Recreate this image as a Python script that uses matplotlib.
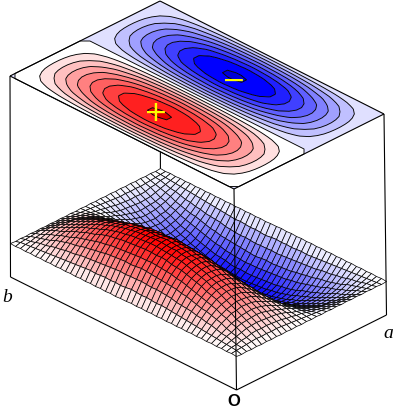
"""Two-lobed wave: contour map on the upper plane, mesh surface below."""

import numpy as np
import matplotlib
matplotlib.use("Agg")
import matplotlib.pyplot as plt
from matplotlib.colors import LinearSegmentedColormap

# height profiles read along the two box directions (the mesh is their product)
a_profile = [0.00, 0.21, 0.41, 0.59, 0.74, 0.87, 0.95, 0.99, 0.99, 0.95, 0.87,
             0.74, 0.59, 0.41, 0.21, 0.00, -0.21, -0.41, -0.59, -0.74, -0.87,
             -0.95, -0.99, -0.99, -0.95, -0.87, -0.74, -0.59, -0.41, -0.21, 0.00]
b_profile = [0.00, 0.07, 0.14, 0.21, 0.28, 0.34, 0.41, 0.47, 0.53, 0.59, 0.64,
             0.69, 0.74, 0.79, 0.83, 0.87, 0.90, 0.93, 0.95, 0.97, 0.98, 0.99,
             1.00, 1.00, 0.99, 0.98, 0.97, 0.95, 0.93, 0.90, 0.87, 0.83, 0.79,
             0.74, 0.69, 0.64, 0.59, 0.53, 0.47, 0.41, 0.34, 0.28, 0.21, 0.14,
             0.07, 0.00]

contour_levels = [-1.05, -0.976, -0.854, -0.732, -0.61, -0.488, -0.366, -0.244,
                  -0.122, 0.0, 0.122, 0.244, 0.366, 0.488, 0.61, 0.732, 0.854,
                  0.976, 1.05]
band_colors = ["#0000D8", "#0000FF", "#2020FF", "#4040FF", "#6060FF", "#8080FF",
               "#A0A0FF", "#C0C0FF", "#E0E0FF", "#FFFFFF", "#FFE0E0", "#FFC0C0",
               "#FFA0A0", "#FF8080", "#FF6060", "#FF4040", "#FF2020", "#E00000"]

# box geometry in pixels
AX = np.array([150.0, -75.0])     # along a
BX_TOP = np.array([-224.0, -113.0])
BX = np.array([-226.0, -113.0])   # along b, lower levels
TOP = np.array([234.0, 189.0])
MID = np.array([236.0, 356.0])
BASE = np.array([236.5, 390.0])
AMP = 42.0

fig = plt.figure(figsize=(4.0, 4.12), dpi=100)
ax = fig.add_axes([0, 0, 1, 1])
ax.set_xlim(0, 400)
ax.set_ylim(412, 0)
ax.axis("off")

a = np.linspace(0, 1, len(a_profile))
b = np.linspace(0, 1, len(b_profile))
A, B = np.meshgrid(a, b)
Z = np.outer(b_profile, a_profile)


def edge(p, q, z=5):
    ax.plot([p[0], q[0]], [p[1], q[1]], color="k", lw=0.8, antialiased=True,
            solid_capstyle="butt", zorder=z)


# rear vertical, hidden by the plane and the surface
edge(TOP + AX + BX_TOP, BASE + AX + BX, z=1)

# surface, painted from the back corner forward
sx = MID[0] + A * AX[0] + B * BX[0]
sy = MID[1] + A * AX[1] + B * BX[1] - AMP * Z
cells = 0.25 * (Z[:-1, :-1] + Z[1:, :-1] + Z[:-1, 1:] + Z[1:, 1:])
cmap = LinearSegmentedColormap.from_list("bwr2", ["#0000FF", "#FFFFFF", "#FF0000"])
ax.pcolormesh(sx[::-1, ::-1], sy[::-1, ::-1], cells[::-1, ::-1], cmap=cmap,
              vmin=-1, vmax=1, edgecolors="k", linewidth=0.5, antialiased=True,
              shading="flat", zorder=2)

# upper plane with filled contours
px = TOP[0] + A * AX[0] + B * BX_TOP[0]
py = TOP[1] + A * AX[1] + B * BX_TOP[1]
ax.contourf(px, py, Z, levels=contour_levels, colors=band_colors, zorder=3,
            antialiased=True)
ax.contour(px, py, Z, levels=[v for v in contour_levels[1:-1]], colors="k",
           linewidths=0.65, linestyles="solid", antialiased=True, zorder=4)

# box outline
c = [TOP, TOP + AX, TOP + AX + BX_TOP, TOP + BX_TOP]
for i in range(4):
    edge(c[i], c[(i + 1) % 4])
edge(TOP, BASE)
edge(TOP + AX, BASE + AX)
edge(TOP + BX_TOP, BASE + BX)
edge(BASE, BASE + AX)
edge(BASE, BASE + BX)

# labels
ax.text(156, 110, "+", color="#FFFF00", fontsize=20.5, ha="center", va="center_baseline",
        family="DejaVu Sans", zorder=6)
ax.text(234, 78, "\u2212", color="#FFFF00", fontsize=20.5, ha="center", va="center_baseline",
        family="DejaVu Sans", zorder=6)
ax.text(7, 298, "b", fontsize=14, family="Liberation Serif", style="italic",
        ha="center", va="center", zorder=6)
ax.text(388, 334, "a", fontsize=14, family="Liberation Serif", style="italic",
        ha="center", va="center", zorder=6)
ax.text(234, 401, "O", fontsize=12, family="Liberation Sans", weight="bold",
        ha="center", va="center", zorder=6)

fig.savefig("out.png", dpi=100, facecolor="white")
